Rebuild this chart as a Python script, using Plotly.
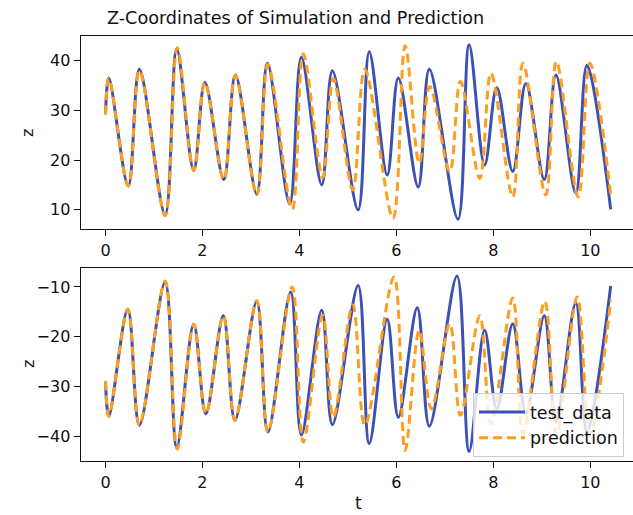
import plotly.graph_objects as go

# ---- data (local extrema, t vs z) ----
t_top_test = [0.00, 0.07, 0.47, 0.70, 1.23, 1.47, 1.82, 2.05, 2.44, 2.68, 3.12, 3.34, 3.80, 4.04, 4.46, 4.68,
              5.21, 5.44, 5.81, 6.04, 6.45, 6.68, 7.27, 7.50, 7.82, 8.07, 8.40, 8.67, 9.05, 9.29, 9.70, 9.93, 10.42]
z_top_test = [29.2, 36.5, 14.8, 38.3, 9.0, 42.3, 17.9, 35.6, 16.1, 37.1, 13.2, 39.5, 11.2, 40.7, 15.0, 38.0,
              10.0, 41.8, 17.0, 36.5, 14.6, 38.3, 8.1, 43.2, 19.0, 34.6, 17.7, 35.4, 16.1, 37.1, 13.4, 39.1, 10.1]

t_top_pred = [0.00, 0.07, 0.47, 0.70, 1.23, 1.48, 1.82, 2.05, 2.44, 2.68, 3.12, 3.35, 3.85, 4.08, 4.48, 4.70,
              5.10, 5.35, 5.93, 6.18, 6.47, 6.69, 7.10, 7.32, 7.72, 7.95, 8.40, 8.61, 9.08, 9.30, 9.75, 9.99, 10.42]
z_top_pred = [29.2, 36.5, 14.8, 38.0, 8.8, 42.6, 17.9, 35.6, 16.1, 37.0, 13.0, 39.3, 10.1, 41.4, 16.5, 36.4,
              14.0, 38.3, 8.3, 43.0, 19.4, 34.8, 17.7, 35.8, 16.3, 37.5, 12.6, 39.5, 13.0, 39.8, 12.6, 39.5, 13.0]

t_bot_test = [0.00, 0.07, 0.46, 0.70, 1.23, 1.47, 1.82, 2.07, 2.43, 2.67, 3.12, 3.35, 3.82, 4.04, 4.46, 4.68,
              5.21, 5.44, 5.81, 6.04, 6.43, 6.68, 7.25, 7.50, 7.82, 8.07, 8.40, 8.67, 9.05, 9.29, 9.70, 9.93, 10.42]
z_bot_test = [-29.0, -36.0, -14.5, -37.8, -9.0, -42.2, -17.5, -35.5, -15.8, -36.8, -12.9, -39.2, -11.0, -39.8,
              -14.7, -37.7, -9.7, -41.5, -16.5, -36.2, -14.2, -38.0, -7.8, -43.1, -18.7, -34.6, -17.4, -35.4,
              -15.8, -37.1, -13.2, -39.1, -9.8]

t_bot_pred = [0.00, 0.07, 0.46, 0.70, 1.23, 1.48, 1.82, 2.07, 2.43, 2.67, 3.12, 3.35, 3.85, 4.08, 4.48, 4.70,
              5.10, 5.35, 5.95, 6.18, 6.47, 6.72, 7.10, 7.32, 7.72, 7.95, 8.40, 8.61, 9.06, 9.30, 9.73, 9.99, 10.42]
z_bot_pred = [-29.0, -36.0, -14.5, -37.8, -8.8, -42.6, -17.5, -35.5, -15.8, -36.8, -12.7, -39.2, -10.0, -41.2,
              -15.7, -36.2, -13.6, -37.8, -8.0, -42.9, -18.7, -34.5, -17.4, -35.8, -15.8, -37.5, -12.2, -39.5,
              -12.9, -39.8, -12.0, -39.5, -12.7]

x_ticks = [0, 2, 4, 6, 8, 10]
top_ticks = [10, 20, 30, 40]
bot_ticks = [-10, -20, -30, -40]

BLUE = "#3b52b4"
ORANGE = "#ff9d1e"
FONT = "DejaVu Sans"
W, H = 633, 515

fig = go.Figure()

def add(t, z, color, dash, name, xa, ya, show):
    fig.add_trace(go.Scatter(
        x=t, y=z, mode="lines", name=name, showlegend=show,
        line=dict(color=color, width=3, dash=dash, shape="spline", smoothing=1.0),
        xaxis=xa, yaxis=ya))

add(t_top_test, z_top_test, BLUE, "solid", "test_data", "x", "y", False)
add(t_top_pred, z_top_pred, ORANGE, "9px,5px", "prediction", "x", "y", False)
add(t_bot_test, z_bot_test, BLUE, "solid", "test_data", "x2", "y2", True)
add(t_bot_pred, z_bot_pred, ORANGE, "9px,5px", "prediction", "x2", "y2", True)

x_dom = [80.7 / W, 1.0]
xr = [-0.511, 10.88]
axis_common = dict(showline=True, linecolor="#111", linewidth=1.3, ticks="outside", ticklen=6,
                   tickwidth=1.2, tickcolor="#111", showgrid=False, zeroline=False,
                   tickfont=dict(family=FONT, size=16, color="#111"))

fig.update_layout(
    width=W, height=H,
    margin=dict(l=0, r=0, t=0, b=0),
    paper_bgcolor="white", plot_bgcolor="white",
    xaxis=dict(domain=x_dom, range=xr, tickvals=x_ticks, anchor="y", mirror=True, **axis_common),
    yaxis=dict(domain=[1 - 229.3 / H, 1 - 36 / H], range=[6.08, 44.97], tickvals=top_ticks,
               anchor="x", **axis_common),
    xaxis2=dict(domain=x_dom, range=xr, tickvals=x_ticks, anchor="y2", mirror=True, **axis_common),
    yaxis2=dict(domain=[1 - 461.3 / H, 1 - 267.7 / H], range=[-45.07, -6.12], tickvals=bot_ticks,
                anchor="x2", **axis_common),
    legend=dict(x=473 / W, y=1 - 393 / H, xanchor="left", yanchor="top",
                bgcolor="rgba(255,255,255,0.8)", bordercolor="#cccccc", borderwidth=1,
                itemwidth=46,
                font=dict(family=FONT, size=17.5, color="#111"), tracegroupgap=0),
    annotations=[
        dict(text="Z-Coordinates of Simulation and Prediction", x=295 / W, y=1 - 18 / H,
             xref="paper", yref="paper", showarrow=False, xanchor="center", yanchor="middle",
             font=dict(family=FONT, size=17.6, color="#111")),
        dict(text="z", x=28 / W, y=1 - 133 / H, xref="paper", yref="paper", showarrow=False,
             textangle=-90, xanchor="center", yanchor="middle",
             font=dict(family=FONT, size=16, color="#111")),
        dict(text="z", x=28 / W, y=1 - 364 / H, xref="paper", yref="paper", showarrow=False,
             textangle=-90, xanchor="center", yanchor="middle",
             font=dict(family=FONT, size=16, color="#111")),
        dict(text="t", x=358 / W, y=1 - 503 / H, xref="paper", yref="paper", showarrow=False,
             xanchor="center", yanchor="middle",
             font=dict(family=FONT, size=17, color="#111")),
    ],
)

fig.write_html("out.html")
